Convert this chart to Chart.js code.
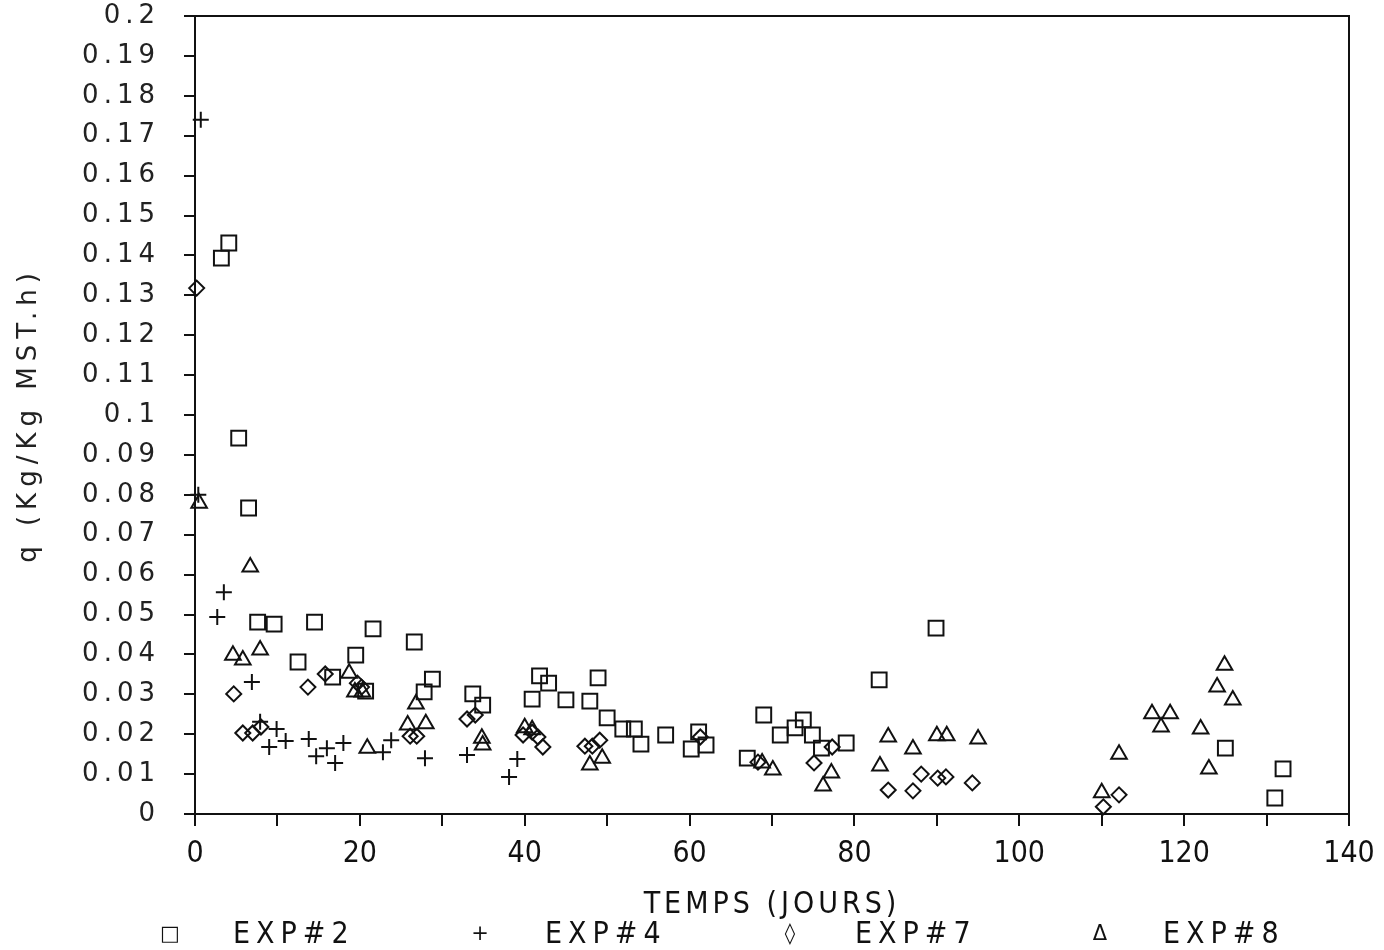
<!DOCTYPE html>
<html>
<head>
<meta charset="utf-8">
<script src="https://cdn.jsdelivr.net/npm/chart.js@4/dist/chart.umd.min.js"></script>
<style>
  body { margin: 0; background: #fff; }
  #wrap { position: relative; width: 1384px; height: 950px; }
  .leg { position: absolute; top: 915px; font-family: 'Liberation Sans Narrow', 'DejaVu Sans Condensed', sans-serif;
         font-size: 30px; letter-spacing: 6px; color: #111; line-height: 36px; }
  .mark { position: absolute; top: 918px; font-family: 'DejaVu Sans', sans-serif; font-size: 21px;
          color: #111; line-height: 30px; transform: translateX(-50%); }
</style>
</head>
<body>
<div id="wrap">
  <canvas id="qGraph" width="1384" height="950"></canvas>
  <span class="mark" style="left:170px">□</span><span class="leg" style="left:233px">EXP#2</span>
  <span class="mark" style="left:480px">+</span><span class="leg" style="left:545px">EXP#4</span>
  <span class="mark" style="left:790px">◊</span><span class="leg" style="left:855px">EXP#7</span>
  <span class="mark" style="left:1100px">Δ</span><span class="leg" style="left:1163px">EXP#8</span>
</div>
<script>
// values: temps (jours) and q (Kg/Kg MST.h)
var exp2Days = [3.2, 4.1, 5.3, 6.5, 7.6, 9.6, 12.5, 14.5, 16.7, 19.5, 20.7, 21.6, 26.6, 27.8, 28.8, 33.7, 34.9,
  40.9, 41.8, 42.9, 45.0, 47.9, 48.9, 50.0, 51.9, 53.3, 54.1, 57.1, 60.2, 61.1, 62.0, 67.0, 69.0, 71.0,
  72.8, 73.8, 74.9, 76.0, 79.0, 83.0, 89.9, 125.0, 131.0, 132.0];
var exp2Q = [0.1393, 0.1431, 0.0942, 0.0767, 0.0481, 0.0476, 0.0381, 0.0481, 0.0343, 0.0398, 0.0308, 0.0464,
  0.0431, 0.0306, 0.0338, 0.0301, 0.0273, 0.0288, 0.0346, 0.0328, 0.0286, 0.0283, 0.0341, 0.0241, 0.0213,
  0.0213, 0.0175, 0.0198, 0.0163, 0.0206, 0.0173, 0.0140, 0.0248, 0.0198, 0.0216, 0.0236, 0.0198, 0.0165,
  0.0178, 0.0336, 0.0466, 0.0165, 0.0040, 0.0113];

var exp4Days = [0.4, 0.7, 2.7, 3.5, 6.9, 7.9, 9.0, 9.9, 11.0, 13.8, 14.7, 16.0, 17.0, 18.0, 22.8, 23.8, 27.9,
  33.0, 38.1, 39.1];
var exp4Q = [0.0800, 0.1740, 0.0494, 0.0556, 0.0331, 0.0231, 0.0168, 0.0213, 0.0183, 0.0188, 0.0145, 0.0165,
  0.0128, 0.0178, 0.0155, 0.0185, 0.0140, 0.0148, 0.0093, 0.0138];

var exp7Days = [0.2, 4.7, 5.8, 7.0, 8.0, 13.7, 15.8, 19.7, 20.2, 26.1, 26.9, 33.0, 34.0, 39.8, 40.9, 41.6,
  42.2, 47.3, 48.2, 49.1, 61.3, 68.3, 75.1, 77.3, 84.1, 87.1, 88.1, 90.1, 91.1, 94.3, 110.2, 112.1];
var exp7Q = [0.1318, 0.0301, 0.0203, 0.0203, 0.0218, 0.0318, 0.0351, 0.0328, 0.0318, 0.0195, 0.0195, 0.0238,
  0.0248, 0.0198, 0.0205, 0.0193, 0.0168, 0.0170, 0.0170, 0.0185, 0.0193, 0.0130, 0.0128, 0.0168, 0.0060,
  0.0058, 0.0100, 0.0090, 0.0093, 0.0078, 0.0018, 0.0048];

var exp8Days = [0.5, 4.6, 5.8, 6.7, 7.9, 18.7, 19.4, 20.3, 20.9, 25.8, 26.8, 28.0, 34.8, 34.9, 40.0, 40.9,
  47.9, 49.4, 68.8, 70.1, 76.2, 77.2, 83.1, 84.1, 87.1, 90.0, 91.2, 95.0, 110.0, 112.1, 116.1, 117.2, 118.3,
  122.0, 123.0, 124.0, 124.9, 125.9];
var exp8Q = [0.0779, 0.0398, 0.0386, 0.0619, 0.0411, 0.0353, 0.0306, 0.0306, 0.0165, 0.0223, 0.0276, 0.0226,
  0.0190, 0.0173, 0.0216, 0.0211, 0.0123, 0.0140, 0.0128, 0.0110, 0.0070, 0.0103, 0.0120, 0.0193, 0.0163,
  0.0196, 0.0196, 0.0188, 0.0053, 0.0150, 0.0251, 0.0218, 0.0251, 0.0213, 0.0113, 0.0318, 0.0373, 0.0286];

function pts(xs, ys) {
    var out = [];
    for (var i = 0; i < xs.length; i++) out.push({x: xs[i], y: ys[i]});
    return out;
}

function series(label, xs, ys, style, r) {
    return {
        label: label,
        data: pts(xs, ys),
        pointStyle: style,
        pointRadius: r,
        pointHoverRadius: r,
        borderColor: '#111',
        backgroundColor: 'rgba(0,0,0,0)',
        borderWidth: 2,
        clip: false
    };
}

var narrow = "'Liberation Sans Narrow', 'DejaVu Sans Condensed', sans-serif";
var wide = "'DejaVu Sans', sans-serif";

// canvas letter spacing per axis (labels, title)
var spacing = { x: ['0px', '4px'], y: ['5px', '6px'] };

var spacingPlugin = {
    id: 'spacing',
    beforeDraw: function(chart) {
        Object.keys(chart.scales).forEach(function(id) {
            var scale = chart.scales[id];
            if (scale._spaced || !spacing[id]) return;
            ['drawLabels', 'drawTitle'].forEach(function(fn, i) {
                var orig = scale[fn];
                scale[fn] = function(a) {
                    this.ctx.letterSpacing = spacing[id][i];
                    orig.call(this, a);
                    this.ctx.letterSpacing = '0px';
                };
            });
            scale._spaced = true;
        });
    }
};

// top and right lines of the frame
var framePlugin = {
    id: 'frame',
    afterDraw: function(chart) {
        var a = chart.chartArea, ctx = chart.ctx;
        ctx.save();
        ctx.strokeStyle = '#111';
        ctx.lineWidth = 2;
        ctx.beginPath();
        ctx.moveTo(a.left, a.top);
        ctx.lineTo(a.right, a.top);
        ctx.lineTo(a.right, a.bottom);
        ctx.stroke();
        ctx.restore();
    }
};

var qConfig = {
    type: 'scatter',
    data: {
        datasets: [
            series('EXP#2', exp2Days, exp2Q, 'rect', 10.5),
            series('EXP#4', exp4Days, exp4Q, 'cross', 8),
            series('EXP#7', exp7Days, exp7Q, 'rectRot', 7.5),
            series('EXP#8', exp8Days, exp8Q, 'triangle', 9)
        ]
    },
    options: {
        responsive: false,
        animation: false,
        layout: { padding: { top: 16, right: 35, left: 0, bottom: 0 } },
        plugins: {
            legend: { display: false },
            tooltip: { enabled: false }
        },
        scales: {
            x: {
                type: 'linear',
                min: 0,
                max: 140,
                afterFit: function(s) { s.height = 136; s.paddingLeft = 0; s.paddingRight = 0; },
                border: { color: '#111', width: 2 },
                grid: { drawOnChartArea: false, color: '#111', lineWidth: 2, tickLength: 12 },
                ticks: {
                    stepSize: 10,
                    autoSkip: false,
                    maxRotation: 0,
                    padding: 10,
                    color: '#111',
                    font: { family: narrow, size: 30 },
                    callback: function(v) { return v % 20 === 0 ? v : ''; }
                },
                title: {
                    display: true,
                    text: 'TEMPS (JOURS)',
                    color: '#111',
                    font: { family: narrow, size: 30 },
                    padding: { top: 0, bottom: 27 }
                }
            },
            y: {
                type: 'linear',
                min: 0,
                max: 0.2,
                afterFit: function(s) { s.width = 195; s.paddingTop = 0; s.paddingBottom = 0; },
                border: { color: '#111', width: 2 },
                grid: { drawOnChartArea: false, color: '#111', lineWidth: 2, tickLength: 11 },
                ticks: {
                    stepSize: 0.01,
                    autoSkip: false,
                    padding: 24,
                    color: '#222',
                    font: { family: wide, size: 26 },
                    callback: function(v) { return Math.round(v * 100) / 100; }
                },
                title: {
                    display: true,
                    text: 'q (Kg/Kg MST.h)',
                    color: '#222',
                    font: { family: wide, size: 26 },
                    padding: { top: 14, bottom: 0 }
                }
            }
        }
    },
    plugins: [spacingPlugin, framePlugin]
};

var qCtx = document.getElementById('qGraph');
var qChart = new Chart(qCtx, qConfig);
</script>
</body>
</html>
